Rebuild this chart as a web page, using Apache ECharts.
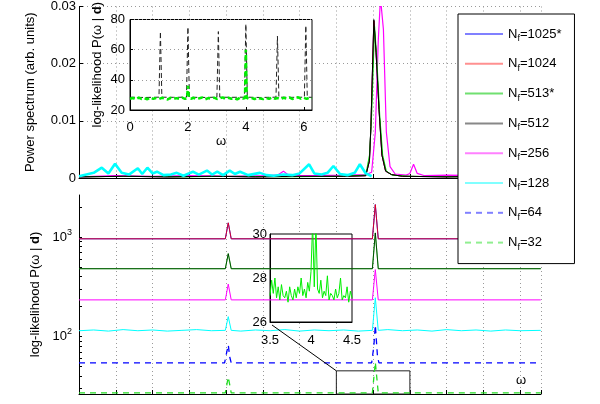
<!DOCTYPE html>
<html><head><meta charset="utf-8">
<script src="https://cdn.jsdelivr.net/npm/echarts@6/dist/echarts.min.js"></script>
<style>html,body{margin:0;padding:0;background:#fff}#c{width:600px;height:404px}</style>
</head><body><div id="c"></div><script>
const FONT = 'Liberation Sans, Arial, Helvetica, sans-serif';
const TWO_PI = 6.283185;

// ---- top panel: power spectrum ----
const topCyan = [[0,0.0003],[0.1,0.0006],[0.2,0.0009],[0.31,0.0018],[0.4,0.0008],[0.49,0.0025],[0.58,0.0009],[0.68,0.0006],[0.8,0.0017],[0.86,0.0007],[0.93,0.0018],[1.0,0.0008],[1.06,0.0011],[1.15,0.0005],[1.25,0.0006],[1.33,0.0009],[1.42,0.0004],[1.55,0.0011],[1.63,0.0006],[1.74,0.0013],[1.81,0.0006],[1.88,0.0011],[1.96,0.0005],[2.05,0.0013],[2.12,0.0007],[2.19,0.0011],[2.3,0.0005],[2.46,0.0009],[2.55,0.0005],[2.65,0.0004],[2.78,0.0006],[2.9,0.0005],[3.0,0.0008],[3.13,0.0024],[3.2,0.0008],[3.3,0.0006],[3.38,0.0009],[3.46,0.0021],[3.55,0.0007],[3.65,0.0005],[3.75,0.0009],[3.82,0.0024],[3.9,0.0008],[3.98,0.0003]];
const topMagenta = [[0,0.0002],[0.5,0.0004],[1.0,0.0003],[1.5,0.0004],[2.0,0.0003],[2.5,0.0004],[2.7,0.0005],[2.78,0.0012],[2.86,0.0004],[3.2,0.0004],[3.6,0.0005],[3.9,0.0006],[3.98,0.001],[4.03,0.008],[4.07,0.024],[4.10,0.0315],[4.14,0.026],[4.18,0.008],[4.23,0.002],[4.3,0.0007],[4.45,0.0005],[4.5,0.0008],[4.55,0.0024],[4.6,0.0008],[4.7,0.0004],[5.0,0.0005],[5.5,0.0004],[6.0,0.0005],[6.28,0.0004]];
const topBlack = [[0,0.0002],[0.6,0.0003],[1.2,0.0002],[1.8,0.0003],[2.4,0.0002],[3.0,0.0003],[3.6,0.0003],[3.9,0.0004],[3.95,0.003],[3.97,0.009],[4.01,0.0277],[4.04,0.022],[4.08,0.012],[4.12,0.004],[4.17,0.0012],[4.25,0.0006],[4.4,0.0003],[5.0,0.0002],[5.6,0.0003],[6.28,0.0002]];
const topGreen = [[0,0.0002],[0.7,0.0003],[1.4,0.0002],[2.1,0.0003],[2.8,0.0002],[3.5,0.0003],[3.9,0.0005],[3.95,0.004],[3.98,0.011],[4.02,0.0265],[4.05,0.021],[4.09,0.011],[4.13,0.004],[4.18,0.0012],[4.26,0.0005],[4.5,0.0003],[5.2,0.0002],[6.28,0.0003]];
// N_f=1025* and N_f=1024 spectra lie underneath N_f=512
const topBlue = [[0,0.0002],[0.6,0.0003],[1.2,0.0002],[1.8,0.0003],[2.4,0.0002],[3.0,0.0003],[3.6,0.0003],[3.9,0.0004],[3.95,0.003],[3.97,0.009],[4.01,0.0275],[4.04,0.022],[4.08,0.012],[4.12,0.004],[4.17,0.0012],[4.25,0.0006],[4.4,0.0003],[5.0,0.0002],[5.6,0.0003],[6.28,0.0002]];
const topRed = [[0,0.0002],[0.6,0.0003],[1.2,0.0002],[1.8,0.0003],[2.4,0.0002],[3.0,0.0003],[3.6,0.0003],[3.9,0.0004],[3.95,0.003],[3.97,0.009],[4.01,0.0275],[4.04,0.022],[4.08,0.012],[4.12,0.004],[4.17,0.0012],[4.25,0.0006],[4.4,0.0003],[5.0,0.0002],[5.6,0.0003],[6.28,0.0002]];

// ---- top inset: log-likelihood ----
const insetBlack = [[0,28.5],[0.5,28.3],[1.0,28.5],[1.05,72],[1.10,28.5],[1.5,28.4],[1.95,28.5],[2.0,75],[2.05,28.5],[2.5,28.3],[3.0,28.5],[3.05,72],[3.10,28.5],[3.5,28.4],[3.95,28.5],[4.0,77],[4.05,28.5],[4.5,28.3],[5.04,28.5],[5.09,69],[5.14,28.5],[5.6,28.4],[6.02,28.5],[6.07,76],[6.12,28.5],[6.28,28.4]];
const insetGreen = [[0,27.5],[0.1,28],[0.2,27],[0.3,28.2],[0.4,27.3],[0.5,27.8],[0.6,27.1],[0.7,28.3],[0.8,27.4],[0.9,27.9],[1.0,27.2],[1.1,28.1],[1.2,27.5],[1.3,27.0],[1.4,28.0],[1.5,27.3],[1.6,27.9],[1.7,27.4],[1.8,28.2],[1.9,27.3],[1.97,28],[2.0,36],[2.03,28],[2.1,27.5],[2.2,28.1],[2.3,27.2],[2.4,27.8],[2.5,28.3],[2.6,27.1],[2.7,27.9],[2.8,27.5],[2.9,28.2],[3.0,27.3],[3.1,27.8],[3.2,28.4],[3.3,27.2],[3.4,28.1],[3.5,27.5],[3.6,27.9],[3.7,27.1],[3.8,28.2],[3.9,27.6],[3.97,28],[4.0,60],[4.03,28],[4.1,27.4],[4.2,27.9],[4.3,27.3],[4.4,28.1],[4.5,27.6],[4.6,27.2],[4.7,28.0],[4.8,27.4],[4.9,28.3],[5.0,27.5],[5.1,27.9],[5.2,27.2],[5.3,28.1],[5.4,27.6],[5.5,28.3],[5.6,27.3],[5.7,27.9],[5.8,28.4],[5.9,27.5],[6.0,28.1],[6.1,27.4],[6.2,28.2],[6.28,27.8]];

// ---- bottom panel: log-likelihood per N_f ----
const botBlue1025 = [[0,960],[1.99,960],[2.03,1390],[2.07,960],[3.99,960],[4.03,2120],[4.07,960],[6.28,960]];
const botRed1024 = [[0,960],[1.99,960],[2.03,1390],[2.07,960],[3.99,960],[4.03,2120],[4.07,960],[6.28,960]];
const botGreen513 = [[0,480],[1.99,480],[2.03,680],[2.07,480],[3.99,480],[4.03,1100],[4.07,480],[6.28,480]];
const botBlack512 = [[0,480],[1.99,480],[2.03,680],[2.07,480],[3.99,480],[4.03,1100],[4.07,480],[6.28,480]];
const botMagenta256 = [[0,233],[1.99,233],[2.03,336],[2.07,233],[3.99,233],[4.03,470],[4.07,233],[6.28,233]];
const botCyan128 = [[0,114],[0.2,116],[0.4,113],[0.6,117],[0.8,114],[1.0,116],[1.2,113],[1.4,115],[1.6,117],[1.8,114],[1.99,115],[2.03,158],[2.07,115],[2.2,113],[2.4,116],[2.6,114],[2.8,117],[3.0,113],[3.2,116],[3.4,114],[3.6,116],[3.8,113],[3.99,115],[4.03,245],[4.07,115],[4.2,117],[4.4,114],[4.6,116],[4.8,113],[5.0,117],[5.2,114],[5.4,116],[5.6,113],[5.8,116],[6.0,114],[6.28,115]];
const botBlue64 = [[0,54],[1.98,54],[2.01,70],[2.03,82],[2.05,62],[2.07,54],[3.98,54],[4.01,80],[4.03,130],[4.06,62],[4.08,54],[6.28,54]];
const botGreen32 = [[0,27],[1.99,27],[2.03,39],[2.07,27],[3.99,27],[4.03,55],[4.07,27],[6.28,27]];

// ---- bottom inset: N_f=32 zoom ----
const zoomOmega = [3.50,3.52,3.54,3.56,3.58,3.60,3.62,3.64,3.66,3.68,3.70,3.72,3.74,3.76,3.78,3.80,3.82,3.84,3.86,3.88,3.90,3.92,3.94,3.96,3.98,4.00,4.02,4.04,4.06,4.08,4.10,4.12,4.14,4.16,4.18,4.20,4.22,4.24,4.26,4.28,4.30,4.32,4.34,4.36,4.38,4.40,4.42,4.44,4.46,4.48,4.50];
const zoomValues = [27.2,27.9,27.3,28.0,27.1,27.6,27.0,27.7,27.2,27.1,27.4,26.9,27.6,27.2,27.0,27.5,27.1,27.6,27.3,28.0,27.2,27.5,27.1,27.8,27.4,28.3,30.5,27.6,30.5,27.5,27.3,27.9,27.1,27.4,27.2,28.1,27.0,27.3,27.2,27.0,27.5,27.1,27.3,28.0,27.0,27.2,27.1,27.6,26.9,27.4,27.1];

const legendNames = ['N_f=1025*','N_f=1024','N_f=513*','N_f=512','N_f=256','N_f=128','N_f=64','N_f=32'];
const legendColors = ['#8080ff','#ff9090','#70e070','#888888','#ff80ff','#80ffff','#8080ff','#90ee90'];
const legendDashed = [false,false,false,false,false,false,true,true];
const logLabelValues = [100, 1000];
const logTickValues = [30,40,50,60,70,80,90,100,200,300,400,500,600,700,800,900,1000,2000];
const LOG_MIN = 26.3, LOG_MAX = 2650;
const ZOOM_BOX = [3.5, 4.5, 45];

const ax = {color:'#000', width:1};
const dotted = {show:true, lineStyle:{color:'#9a9a9a', type:[1,3], width:1}};
const txt = {fontFamily:FONT, fontSize:13, color:'#000'};
function line(name, data, xi, color, w, extra) {
  return Object.assign({type:'line', name:name, data:data, xAxisIndex:xi, yAxisIndex:xi,
    symbol:'none', animation:false, lineStyle:{color:color, width:w}, itemStyle:{color:color}}, extra||{});
}

// legend: line samples as rich-text blocks
const legendRich = {
  n:Object.assign({lineHeight:18}, txt),
  s:{fontFamily:FONT, fontSize:9, color:'#000', verticalAlign:'bottom', lineHeight:9},
  gap:{width:5, height:2, lineHeight:2},
  sp:{width:5, height:2, lineHeight:2}
};
legendColors.forEach((c,i)=>{
  legendRich['c'+i] = {width:38, height:2, lineHeight:2, backgroundColor:c};
  legendRich['d'+i] = {width:6, height:2, lineHeight:2, backgroundColor:c};
  legendRich['e'+i] = {width:5, height:2, lineHeight:2, backgroundColor:c};
});
function legendLabel(name) {
  const i = legendNames.indexOf(name);
  const sample = legendDashed[i]
    ? '{d'+i+'|}{gap|}{d'+i+'|}{gap|}{d'+i+'|}{gap|}{e'+i+'|}'
    : '{c'+i+'|}';
  return sample + '{sp|}{n|N}{s|f}{n|' + name.slice(3) + '}';
}

const chart = echarts.init(document.getElementById('c'), null, {renderer:'canvas'});
const option = {
  animation:false,
  backgroundColor:'#fff',
  grid:[
    {left:79, top:6, width:462, height:172},
    {left:130, top:5, width:182, height:105, show:true, backgroundColor:'#fff', borderColor:'#000', borderWidth:1, z:3},
    {left:79, top:195, width:462, height:199},
    {left:270, top:234, width:82, height:88, show:true, backgroundColor:'#fff', borderColor:'#000', borderWidth:1, z:3}
  ],
  xAxis:[
    {gridIndex:0, type:'value', min:0, max:TWO_PI, interval:0.5, axisLine:{lineStyle:ax}, axisTick:{inside:true, length:4, lineStyle:ax}, axisLabel:{show:false}, splitLine:dotted},
    {gridIndex:1, type:'value', min:0, max:TWO_PI, interval:2, z:3, axisLine:{lineStyle:ax}, axisTick:{inside:true, length:3, lineStyle:ax},
      axisLabel:Object.assign({margin:11, showMaxLabel:false, formatter:v=>Number.isInteger(v)?String(v):''}, txt), splitLine:{show:false},
      name:'ω', nameLocation:'middle', nameGap:13, nameTextStyle:txt},
    {gridIndex:2, type:'value', min:0, max:TWO_PI, interval:0.5, axisLine:{lineStyle:ax}, axisTick:{inside:true, length:4, lineStyle:ax}, axisLabel:{show:false}, splitLine:dotted},
    {gridIndex:3, type:'value', min:3.5, max:4.5, interval:0.5, z:3, axisLine:{lineStyle:ax}, axisTick:{show:false},
      axisLabel:Object.assign({margin:12}, txt), splitLine:{show:false}}
  ],
  yAxis:[
    {gridIndex:0, type:'value', min:0, max:0.03, interval:0.01, axisLine:{show:true, lineStyle:ax}, axisTick:{inside:true, length:4, lineStyle:ax},
      axisLabel:Object.assign({margin:3, formatter:v=>v===0?'0':v.toFixed(2)}, txt), splitLine:dotted,
      name:'Power spectrum (arb. units)', nameLocation:'middle', nameGap:42, nameTextStyle:txt},
    {gridIndex:1, type:'value', min:20, max:80, interval:20, z:3, axisLine:{show:true, lineStyle:ax}, axisTick:{inside:true, length:3, lineStyle:ax},
      axisLabel:Object.assign({margin:5}, txt), splitLine:dotted,
      name:'log-likelihood P(ω | {b|d})', nameLocation:'middle', nameGap:26,
      nameTextStyle:Object.assign({rich:{b:Object.assign({fontWeight:'bold'}, txt)}}, txt)},
    {gridIndex:2, type:'log', logBase:10, min:LOG_MIN, max:LOG_MAX, axisLine:{show:true, lineStyle:ax},
      axisTick:{inside:true, length:3, lineStyle:ax, customValues:logTickValues},
      axisLabel:Object.assign({margin:7, customValues:logLabelValues,
        formatter:v=>{const e=Math.round(Math.log10(v)); return Math.abs(Math.pow(10,e)-v)<1e-6 ? '{m|10}{e|'+e+'}' : '';},
        rich:{m:Object.assign({lineHeight:18}, txt), e:{fontFamily:FONT, fontSize:9, color:'#000', verticalAlign:'top', lineHeight:9}}}, txt),
      splitLine:{show:false},
      name:'log-likelihood P(ω | {b|d})', nameLocation:'middle', nameGap:36,
      nameTextStyle:Object.assign({rich:{b:Object.assign({fontWeight:'bold'}, txt)}}, txt)},
    {gridIndex:3, type:'value', min:26, max:30, interval:2, z:3, axisLine:{show:true, lineStyle:ax}, axisTick:{show:false},
      axisLabel:Object.assign({margin:3}, txt), splitLine:{show:false}}
  ],
  legend:{
    orient:'vertical', left:458, top:14, itemWidth:1, itemHeight:14, itemGap:13.8,
    padding:[13,13,12,1], backgroundColor:'#fff', borderColor:'#000', borderWidth:1, z:10,
    data:legendNames.map(n=>({name:n, icon:'rect', itemStyle:{color:'rgba(255,255,255,0)', opacity:0, borderWidth:0}})),
    selectedMode:false,
    formatter:legendLabel,
    textStyle:Object.assign({rich:legendRich}, txt)
  },
  graphic:[{type:'text', left:516, top:374, z:5, style:{text:'ω', font:'13px '+FONT, fill:'#000'}}],
  series:[
    line('N_f=1025*', topBlue, 0, '#0000ff', 1),
    line('N_f=1024', topRed, 0, '#ff0000', 1),
    line('N_f=256', topMagenta, 0, '#ff00ff', 1.2),
    line('N_f=513*', topGreen, 0, '#00cc00', 1),
    line('N_f=512', topBlack, 0, '#000000', 1),
    line('N_f=128', topCyan, 0, '#00ffff', 2.6),

    line('N_f=1025*', botBlue1025, 2, '#0000ff', 1),
    line('N_f=1024', botRed1024, 2, '#ff0000', 1, {lineStyle:{color:'#ff0000', width:1, opacity:0.82}}),
    line('N_f=513*', botGreen513, 2, '#00cc00', 1),
    line('N_f=512', botBlack512, 2, '#000000', 1, {lineStyle:{color:'#000', width:1, opacity:0.6}}),
    line('N_f=256', botMagenta256, 2, '#ff00ff', 1),
    line('N_f=128', botCyan128, 2, '#00ffff', 1),
    line('N_f=64', botBlue64, 2, '#0000ff', 1.3, {lineStyle:{color:'#0000ff', width:1.3, type:[6,5]}}),
    line('N_f=32', botGreen32, 2, '#22dd22', 1.3, {id:'bGreen', lineStyle:{color:'#22dd22', width:1.3, type:[6,5]},
      markArea:{silent:true, itemStyle:{color:'rgba(0,0,0,0)', borderColor:'#222', borderWidth:1},
        data:[[{coord:[ZOOM_BOX[0], LOG_MIN]},{coord:[ZOOM_BOX[1], ZOOM_BOX[2]]}]]}}),

    line('', insetBlack, 1, '#222222', 1, {z:4, lineStyle:{color:'#222', width:1, type:[5,3]}}),
    line('', insetGreen, 1, '#00ee00', 2.5, {z:4, lineStyle:{color:'#00ee00', width:2.5, type:[5,3]}}),
    line('', zoomOmega.map((w,i)=>[w, zoomValues[i]]), 3, '#00ee00', 1, {z:4})
  ]
};
chart.setOption(option);
const tip = chart.convertToPixel({xAxisIndex:3, yAxisIndex:3}, [3.5, 26]);
chart.setOption({series:[{id:'bGreen', markLine:{silent:true, symbol:['none','arrow'], symbolSize:[0,9], label:{show:false},
  lineStyle:{color:'#000', width:1, type:'solid'}, animation:false,
  data:[[{coord:[ZOOM_BOX[0], ZOOM_BOX[2]]},{x:tip[0]+2, y:tip[1]+3}]]}}]});
</script></body></html>
